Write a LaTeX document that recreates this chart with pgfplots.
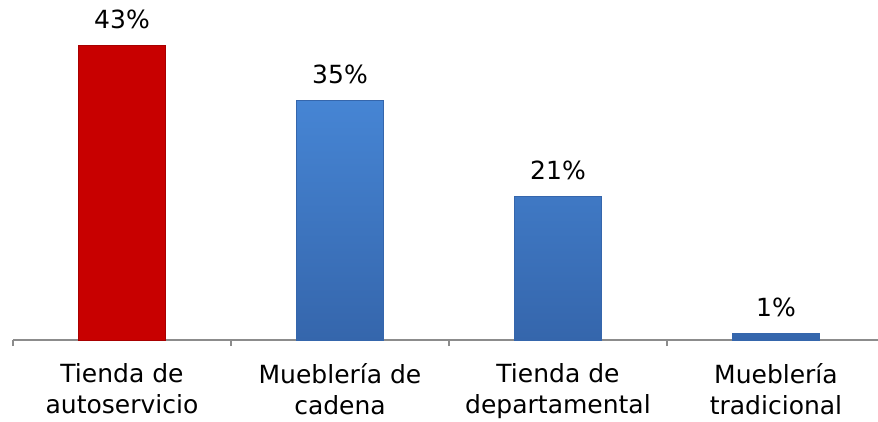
\documentclass[border=0pt]{standalone}
\usepackage{pgfplots}
\pgfplotsset{compat=1.18}
\usepackage{fontspec}
\setmainfont{DejaVu Sans}
\definecolor{barred}{HTML}{C80000}
\definecolor{barredd}{HTML}{A80000}
\definecolor{bluetop}{HTML}{4685D4}
\definecolor{bluebot}{HTML}{3566AC}
\definecolor{axisgray}{HTML}{8C8C8C}
\begin{document}
\begin{tikzpicture}
	% page = 878 x 421 pt, axis line 81pt above the bottom, 13pt from the left
	\path[use as bounding box] (-13pt,-81pt) rectangle (865pt,340pt);
	\begin{axis}[
		scale only axis,
		width=865pt,
		height=340pt,
		xmin=-0.5, xmax=3.468,
		ymin=0, ymax=49.6,
		axis x line=bottom,
		axis y line=none,
		axis line style={-, axisgray, line width=1.3pt},
		xtick={0,1,2,3},
		xticklabels={{Tienda de\\autoservicio},{Mueblería de\\cadena},{Tienda de\\departamental},{Mueblería\\tradicional}},
		minor xtick={-0.5,0.5,1.5,2.5},
		major tick length=0pt,
		minor tick length=6pt,
		tick align=outside,
		minor x tick style={axisgray, line width=1.2pt},
		xticklabel style={align=center, inner sep=0pt, yshift=-23pt,
			font=\fontsize{25}{31}\selectfont},
		ybar, bar shift=0pt, bar width=87pt,
		/pgf/number format/assume math mode=true,
		nodes near coords={\pgfmathprintnumber{\pgfplotspointmeta}\%},
		every node near coord/.append style={inner sep=0pt, yshift=16pt,
			font=\fontsize{25}{30}\selectfont, black},
		clip=false,
	]
		\addplot[fill=barred, draw=barredd, line width=0.6pt] coordinates {(0,43)};
		\addplot[top color=bluetop, bottom color=bluebot, draw=bluebot, line width=0.6pt]
			coordinates {(1,35) (2,21) (3,1)};
	\end{axis}
\end{tikzpicture}
\end{document}
